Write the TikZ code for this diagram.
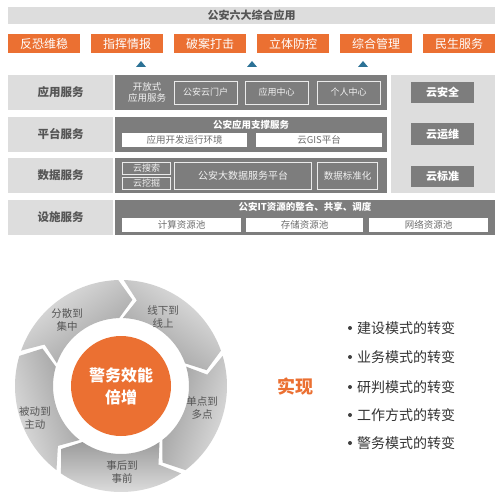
\documentclass[tikz,border=0pt]{standalone}
\usepackage{fontspec}
\setmainfont{Noto Sans CJK SC}
\definecolor{og}{HTML}{EB7032}
\definecolor{lg}{HTML}{DDDDDD}
\definecolor{dg}{HTML}{7D7D7D}
\definecolor{tx}{HTML}{555555}
\definecolor{trig}{HTML}{2C7296}
\definecolor{sl}{HTML}{E4E4E4}
\definecolor{sd}{HTML}{9C9C9C}
\tikzset{
 every node/.style={inner sep=0pt, outer sep=0pt},
 tbar/.style={fill=lg, minimum width=487, minimum height=17, text=tx, font=\bfseries\fontsize{11}{13}\selectfont},
 obox/.style={fill=og, minimum width=72, minimum height=19, text=white, font=\fontsize{12}{14}\selectfont},
 lab/.style={fill=lg, minimum width=105, minimum height=35, text=tx, font=\bfseries\fontsize{11.5}{14}\selectfont},
 midrow/.style={fill=dg, minimum height=35},
 rbox/.style={fill=dg, minimum width=63, minimum height=21, text=white, font=\bfseries\fontsize{11}{13}\selectfont},
 obord/.style={draw=white!85!dg, line width=0.9, text=white!90!dg, font=\fontsize{9}{11}\selectfont},
 wbox/.style={fill=white, minimum height=14, text=tx!85, font=\fontsize{9.5}{11}\selectfont},
 ttl/.style={text=white, font=\bfseries\fontsize{9.5}{11}\selectfont},
 clab/.style={text=tx, align=center, font=\fontsize{10.5}{13}\selectfont},
 bul/.style={anchor=west, text=black!80, font=\fontsize{14}{16}\selectfont},
 dot/.style={circle, fill=black!75, minimum size=4},
}
\begin{document}
\begin{tikzpicture}[x=1pt,y=-1pt]
\useasboundingbox (0,0) rectangle (503,500);
\fill[white] (0,0) rectangle (503,500);
% title
\node[tbar] (title) at (251.5,15.5) {公安六大综合应用};
% orange row
\node[obox] (o1) at (44,43.5) {反恐维稳};
\node[obox] (o2) at (127,43.5) {指挥情报};
\node[obox] (o3) at (210,43.5) {破案打击};
\node[obox] (o4) at (293,43.5) {立体防控};
\node[obox] (o5) at (376,43.5) {综合管理};
\node[obox] (o6) at (459,43.5) {民生服务};
% triangles
\foreach \x in {141,252,363} {\fill[trig] (\x-5,67) -- (\x+5,67) -- (\x,61) -- cycle;}
% left labels
\node[lab] (l1) at (60.5,92.5) {应用服务};
\node[lab] (l2) at (60.5,134.5) {平台服务};
\node[lab] (l3) at (60.5,175.5) {数据服务};
\node[lab] (l4) at (60.5,217.5) {设施服务};
% middle rows
\node[midrow, minimum width=272] (m1) at (251,92.5) {};
\node[midrow, minimum width=272] (m2) at (251,134.5) {};
\node[midrow, minimum width=272] (m3) at (251,175.5) {};
\node[midrow, minimum width=380] (m4) at (305,217.5) {};
% right panel
\node[fill=lg, minimum width=104, minimum height=118] (rp) at (443,134) {};
\node[rbox] (r1) at (442.5,92.5) {云安全};
\node[rbox] (r2) at (442.5,134) {云运维};
\node[rbox] (r3) at (442.5,176) {云标准};
% row 1
\node[text=white!90!dg, align=center, font=\fontsize{9.5}{11}\selectfont] (open) at (147,92.5) {开放式\\应用服务};
\node[obord, minimum width=63, minimum height=23] (p1) at (205.5,92.5) {公安云门户};
\node[obord, minimum width=63, minimum height=23] (p2) at (276.5,92.5) {应用中心};
\node[obord, minimum width=63, minimum height=23] (p3) at (348.5,92.5) {个人中心};
% row 2
\node[ttl] (t2) at (251,124.5) {公安应用支撑服务};
\node[wbox, minimum width=125] (w1) at (184.5,140) {应用开发运行环境};
\node[wbox, minimum width=126] (w2) at (319,140) {云GIS平台};
% row 3
\node[obord, minimum width=48, minimum height=12] (s1) at (146.5,168.5) {云搜索};
\node[obord, minimum width=48, minimum height=12] (s2) at (146.5,183) {云挖掘};
\node[obord, minimum width=137, minimum height=27, font=\fontsize{10}{12}\selectfont] (s3) at (243,175.5) {公安大数据服务平台};
\node[obord, minimum width=60, minimum height=27, font=\fontsize{9.5}{11}\selectfont] (s4) at (347.5,175.5) {数据标准化};
% row 4
\node[ttl] (t4) at (305,207) {公安IT资源的整合、共享、调度};
\node[wbox, minimum width=119] (q1) at (181.5,225) {计算资源池};
\node[wbox, minimum width=117] (q2) at (304.5,225) {存储资源池};
\node[wbox, minimum width=119] (q3) at (428.5,225) {网络资源池};
% ring
\begin{scope}[shift={(121,386)}]
\foreach \s/\e in {90/18, 18/-54, -54/-126, -126/-198, 162/90} {
  \pgfmathsetmacro\m{(\s+\e)/2-90}
  \shade[left color=sl, right color=sd, shading angle=\m]
    (\s-1.5:106pt) arc[start angle=\s-1.5, end angle=\e+1.5, radius=106pt]
    -- (\e+1.5-9:87pt) -- (\e+1.5:68pt)
    arc[start angle=\e+1.5, end angle=\s-1.5, radius=68pt]
    -- (\s-1.5-9:87pt) -- cycle;
}
\end{scope}
\node[circle, fill=og, minimum size=100, text=white, align=center, font=\bfseries\fontsize{16}{22}\selectfont] (core) at (121,386) {警务效能\\倍增};
\node[clab] (c1) at (67,320) {分散到\\集中};
\node[clab] (c2) at (163,317) {线下到\\线上};
\node[clab] (c3) at (202,408) {单点到\\多点};
\node[clab] (c4) at (122,472) {事后到\\事前};
\node[clab] (c5) at (35,418) {被动到\\主动};
% right list
\node[text=og, font=\bfseries\fontsize{18}{20}\selectfont] (sx) at (295,387) {实现};
\node[dot] (d1) at (350,328) {};
\node[dot] (d2) at (350,357) {};
\node[dot] (d3) at (350,387) {};
\node[dot] (d4) at (350,415) {};
\node[dot] (d5) at (350,443) {};
\node[bul] (b1) at (357,328) {建设模式的转变};
\node[bul] (b2) at (357,357) {业务模式的转变};
\node[bul] (b3) at (357,387) {研判模式的转变};
\node[bul] (b4) at (357,415) {工作方式的转变};
\node[bul] (b5) at (357,443) {警务模式的转变};
\end{tikzpicture}
\end{document}
